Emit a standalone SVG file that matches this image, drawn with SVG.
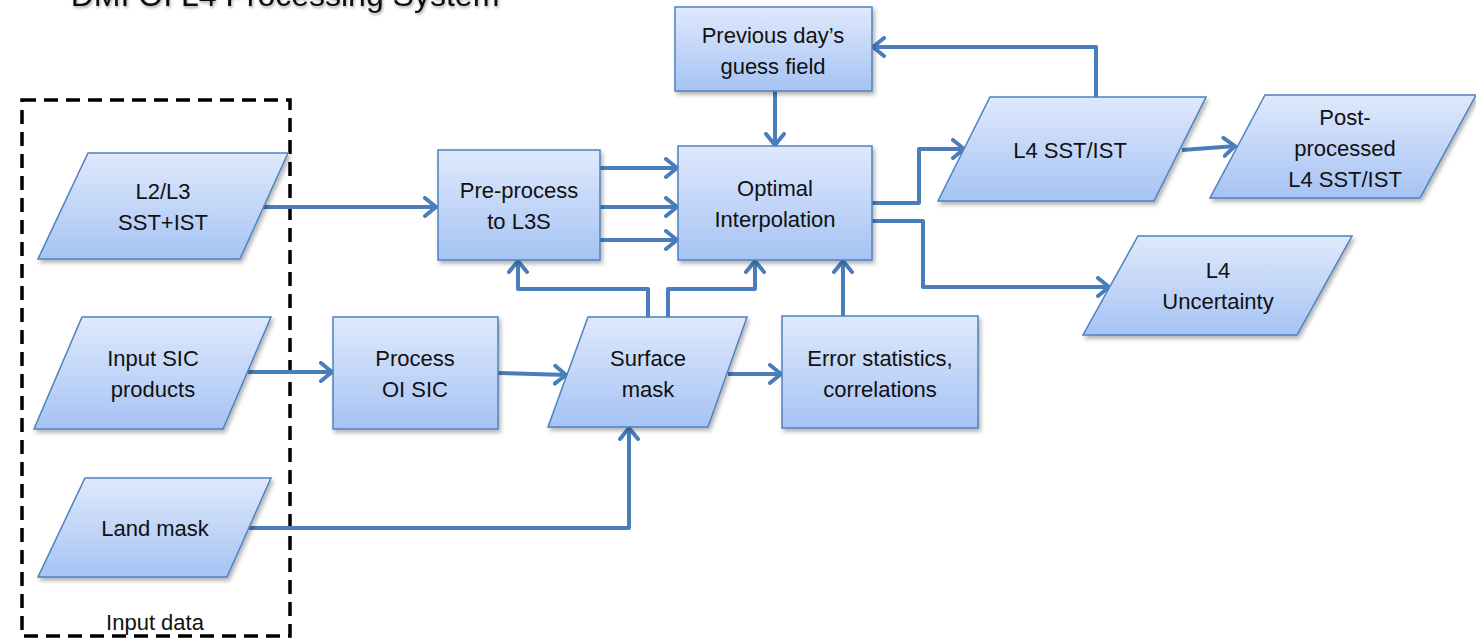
<svg xmlns="http://www.w3.org/2000/svg" width="1476" height="640" viewBox="0 0 1476 640">
<defs>
<linearGradient id="g" x1="0" y1="0" x2="0" y2="1">
<stop offset="0" stop-color="#dfe9fc"/>
<stop offset="1" stop-color="#a6c3f4"/>
</linearGradient>
<filter id="sh" x="-10%" y="-10%" width="130%" height="140%">
<feDropShadow dx="2" dy="3" stdDeviation="2" flood-color="#000" flood-opacity="0.3"/>
</filter>
<filter id="tsh" x="-5%" y="-50%" width="110%" height="200%">
<feDropShadow dx="1" dy="2" stdDeviation="1.5" flood-color="#000" flood-opacity="0.35"/>
</filter>
<marker id="arr" viewBox="0 0 16 22" refX="14" refY="11" markerWidth="16" markerHeight="22" orient="auto" markerUnits="userSpaceOnUse">
<path d="M2,2 L13,11 L2,20" fill="none" stroke="#4a7ebb" stroke-width="4" stroke-linecap="round" stroke-linejoin="round"/>
</marker>
</defs>
<style>
.n{fill:url(#g);stroke:#4f81bd;stroke-width:1.5;filter:url(#sh)}
.t{font-family:"Liberation Sans",Arial,sans-serif;font-size:22px;fill:#111;text-anchor:middle}
.c{fill:none;stroke:#4a7ebb;stroke-width:4;stroke-linejoin:round}
.a{marker-end:url(#arr)}
</style>
<rect width="1476" height="640" fill="#fff"/>
<text x="285" y="6" font-family="Liberation Sans,Arial,sans-serif" font-size="32" fill="#111" text-anchor="middle" filter="url(#tsh)">DMI OI L4 Processing System</text>

<g id="input-data">
<rect x="22" y="100" width="268" height="536" fill="none" stroke="#000" stroke-width="3.5" stroke-dasharray="14 8"/>
<text class="t" x="155" y="630">Input data</text>
</g>

<g id="connectors">
<path class="c a" d="M262,207 L437,207"/>
<path class="c a" d="M600,168 L678,168"/>
<path class="c a" d="M600,207 L678,207"/>
<path class="c a" d="M600,240 L678,240"/>
<path class="c a" d="M775,91 L775,146"/>
<path class="c a" d="M1096,97 L1096,47 L872,47"/>
<path class="c a" d="M872,203 L919,203 L919,149 L965,149"/>
<path class="c a" d="M872,221 L923,221 L923,287 L1110,287"/>
<path class="c a" d="M1182,150 L1236,146"/>
<path class="c a" d="M248,372 L333,372"/>
<path class="c a" d="M498,373 L567,375"/>
<path class="c a" d="M728,374 L782,374"/>
<path class="c a" d="M843,316 L843,260"/>
<path class="c a" d="M648,317 L648,289 L518,289 L518,260"/>
<path class="c a" d="M668,317 L668,289 L755,289 L755,260"/>
<path class="c a" d="M249,528 L629,528 L629,427"/>
</g>

<g id="l2l3">
<polygon class="n" points="88,153 288,153 240,259 38,259"/>
<text class="t" x="163" y="199">L2/L3</text>
<text class="t" x="163" y="230">SST+IST</text>
</g>
<g id="preprocess">
<rect class="n" x="438" y="150" width="162" height="110"/>
<text class="t" x="519" y="198">Pre-process</text>
<text class="t" x="519" y="229">to L3S</text>
</g>
<g id="previous">
<rect class="n" x="675" y="7" width="197" height="84"/>
<text class="t" x="773" y="43">Previous day’s</text>
<text class="t" x="773" y="74">guess field</text>
</g>
<g id="oi">
<rect class="n" x="678" y="146" width="194" height="114"/>
<text class="t" x="775" y="196">Optimal</text>
<text class="t" x="775" y="227">Interpolation</text>
</g>
<g id="l4sst">
<polygon class="n" points="990,97 1206,97 1154,201 938,201"/>
<text class="t" x="1070" y="158">L4 SST/IST</text>
</g>
<g id="postprocessed">
<polygon class="n" points="1265,95 1476,95 1420,198 1210,198"/>
<text class="t" x="1345" y="125">Post-</text>
<text class="t" x="1345" y="156">processed</text>
<text class="t" x="1345" y="187">L4 SST/IST</text>
</g>
<g id="l4unc">
<polygon class="n" points="1138,236 1352,236 1297,335 1083,335"/>
<text class="t" x="1218" y="278">L4</text>
<text class="t" x="1218" y="309">Uncertainty</text>
</g>
<g id="inputsic">
<polygon class="n" points="82,317 271,317 223,429 34,429"/>
<text class="t" x="153" y="366">Input SIC</text>
<text class="t" x="153" y="397">products</text>
</g>
<g id="processoisic">
<rect class="n" x="333" y="317" width="165" height="112"/>
<text class="t" x="415" y="366">Process</text>
<text class="t" x="415" y="397">OI SIC</text>
</g>
<g id="surfacemask">
<polygon class="n" points="588,317 747,317 708,427 548,427"/>
<text class="t" x="648" y="366">Surface</text>
<text class="t" x="648" y="397">mask</text>
</g>
<g id="errorstats">
<rect class="n" x="782" y="316" width="196" height="112"/>
<text class="t" x="880" y="366">Error statistics,</text>
<text class="t" x="880" y="397">correlations</text>
</g>
<g id="landmask">
<polygon class="n" points="85,478 271,478 227,577 38,577"/>
<text class="t" x="155" y="536">Land mask</text>
</g>
</svg>
